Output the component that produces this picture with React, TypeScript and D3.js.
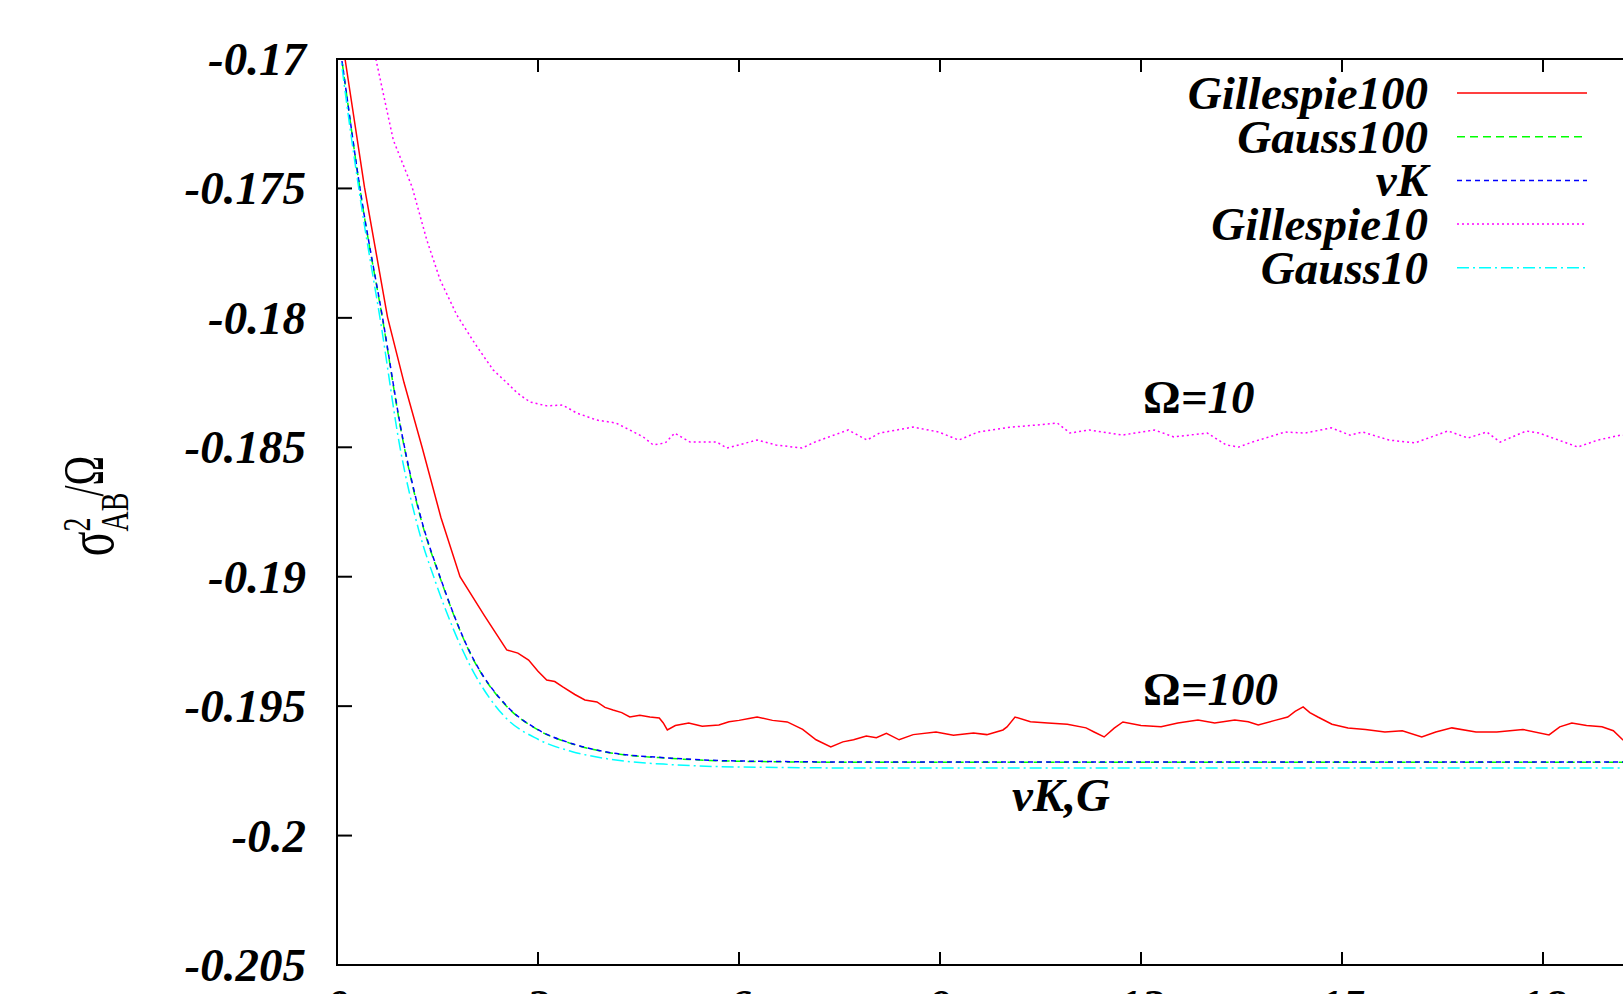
import * as d3 from "d3";

// x ticks (time) and y ticks
const xTicks = [0, 3, 6, 9, 12, 15, 18];
const yTicks = [-0.17, -0.175, -0.18, -0.185, -0.19, -0.195, -0.2, -0.205];
const yTickLabels = ["-0.17", "-0.175", "-0.18", "-0.185", "-0.19", "-0.195", "-0.2", "-0.205"];

// series: [t, sigma^2/Omega]
const gillespie100: [number, number][] = [
  [0, -0.1686], [0.12, -0.17], [0.41, -0.17495], [0.754, -0.17997], [1.0, -0.1825],
  [1.27, -0.185], [1.55, -0.1877], [1.836, -0.19], [2.2, -0.1915], [2.533, -0.19283],
  [2.7, -0.19295], [2.86, -0.19322], [3.0, -0.19365], [3.13, -0.19399], [3.25, -0.19405],
  [3.37, -0.19426], [3.55, -0.19455], [3.7, -0.19476], [3.88, -0.19484], [4.0, -0.19505],
  [4.12, -0.19515], [4.25, -0.19525], [4.37, -0.19542], [4.52, -0.19535], [4.67, -0.19542],
  [4.81, -0.19546], [4.87, -0.19565], [4.93, -0.19592], [5.05, -0.19575], [5.25, -0.19565],
  [5.45, -0.19578], [5.7, -0.19573], [5.85, -0.1956], [6.0, -0.19555], [6.15, -0.19548],
  [6.27, -0.19542], [6.5, -0.19555], [6.72, -0.19561], [6.95, -0.1959], [7.15, -0.1963],
  [7.37, -0.19658], [7.55, -0.19638], [7.71, -0.1963], [7.9, -0.19615], [8.05, -0.19622],
  [8.2, -0.19605], [8.39, -0.1963], [8.6, -0.1961], [8.94, -0.196], [9.2, -0.19612],
  [9.5, -0.19604], [9.7, -0.1961], [9.94, -0.19592], [10.0, -0.1958], [10.12, -0.19542],
  [10.35, -0.1956], [10.61, -0.19565], [10.9, -0.1957], [11.18, -0.19584], [11.3, -0.196],
  [11.45, -0.19619], [11.6, -0.19585], [11.73, -0.19561], [12.0, -0.19575], [12.3, -0.1958],
  [12.55, -0.19565], [12.85, -0.19554], [13.1, -0.19565], [13.4, -0.19554], [13.6, -0.1956],
  [13.75, -0.19573], [14.0, -0.19555], [14.19, -0.19542], [14.3, -0.1952], [14.42, -0.19503],
  [14.52, -0.19525], [14.64, -0.19542], [14.85, -0.1957], [15.09, -0.19584], [15.35, -0.1959],
  [15.64, -0.196], [15.9, -0.19595], [16.19, -0.19619], [16.4, -0.196], [16.64, -0.19584],
  [17.0, -0.196], [17.31, -0.196], [17.7, -0.1959], [18.09, -0.19611], [18.25, -0.1958],
  [18.43, -0.19565], [18.65, -0.19575], [18.88, -0.1958], [19.05, -0.19595], [19.19, -0.1963],
  [19.5, -0.1962], [20, -0.1961],
];

const gauss100: [number, number][] = [
  [0, -0.1687], [0.07, -0.17], [0.37, -0.17548], [0.68, -0.18005], [0.97, -0.18455],
  [1.25, -0.18775], [1.537, -0.19003], [2.0, -0.19302], [2.537, -0.19502], [3.0, -0.19592],
  [3.5, -0.19645], [4, -0.19677], [5, -0.19702], [6, -0.19713], [8, -0.19717], [20, -0.19717],
];

const vK: [number, number][] = [
  [0, -0.1687], [0.07, -0.17], [0.37, -0.17545], [0.68, -0.18], [0.97, -0.1845],
  [1.25, -0.1877], [1.537, -0.19], [2.0, -0.193], [2.537, -0.195], [3.0, -0.19591],
  [3.5, -0.19644], [4, -0.19676], [5, -0.19701], [6, -0.19712], [8, -0.19716], [20, -0.19716],
];

const gillespie10: [number, number][] = [
  [0.3, -0.168], [0.58, -0.17], [0.84, -0.17313], [1.12, -0.17494], [1.34, -0.17699],
  [1.54, -0.17854], [1.79, -0.1799], [2.06, -0.181], [2.33, -0.18201], [2.54, -0.18252],
  [2.69, -0.1829], [2.88, -0.18325], [3.13, -0.1834], [3.37, -0.18337], [3.58, -0.18368],
  [3.88, -0.18395], [4.16, -0.18406], [4.37, -0.18433], [4.57, -0.1846], [4.72, -0.18491],
  [4.9, -0.18483], [5.04, -0.18445], [5.27, -0.1848], [5.67, -0.1848], [5.82, -0.18503],
  [6.27, -0.18472], [6.55, -0.18491], [6.94, -0.18503], [7.13, -0.1848], [7.63, -0.18433],
  [7.91, -0.18472], [8.1, -0.18445], [8.6, -0.18422], [8.98, -0.18441], [9.28, -0.18472],
  [9.57, -0.18441], [10.06, -0.18422], [10.45, -0.18414], [10.75, -0.18406], [10.94, -0.18445],
  [11.23, -0.18433], [11.72, -0.18453], [12.2, -0.18433], [12.49, -0.1846], [12.99, -0.18445],
  [13.27, -0.18491], [13.46, -0.18499], [13.66, -0.1848], [14.15, -0.18441], [14.45, -0.18445],
  [14.84, -0.18425], [15.12, -0.18453], [15.31, -0.18441], [15.7, -0.18472], [16.09, -0.18483],
  [16.58, -0.18437], [16.88, -0.18464], [17.16, -0.18441], [17.36, -0.1848], [17.75, -0.18437],
  [17.94, -0.18445], [18.52, -0.18499], [18.82, -0.18472], [19.16, -0.18453], [19.6, -0.1846],
  [20, -0.1845],
];

const gauss10: [number, number][] = [
  [0, -0.1687], [0.06, -0.17], [0.36, -0.1756], [0.66, -0.1803], [0.94, -0.185],
  [1.22, -0.1882], [1.47, -0.1902], [2.0, -0.1935], [2.5, -0.1954], [3.0, -0.19628],
  [3.5, -0.19675], [4, -0.19702], [5, -0.19726], [6, -0.19735], [8, -0.19739], [20, -0.19739],
];

const series = [
  { name: "Gillespie100", data: gillespie100, color: "#ff0000", dash: "", smooth: false },
  { name: "Gauss100", data: gauss100, color: "#00ff00", dash: "8,5", smooth: true },
  { name: "vK", data: vK, color: "#0000ff", dash: "5,4", smooth: true },
  { name: "Gillespie10", data: gillespie10, color: "#ff00ff", dash: "2,3", smooth: false },
  { name: "Gauss10", data: gauss10, color: "#00ffff", dash: "12,4,2,4", smooth: true },
];

const W = 1623;
const H = 994;
const margin = { left: 337, top: 59, bottom: 965, right: 1677 };
const font = "'Liberation Serif', 'Times New Roman', serif";
const fs = 47;

export default function App() {
  const x = d3.scaleLinear().domain([0, 20]).range([margin.left, margin.right]);
  const y = d3.scaleLinear().domain([-0.205, -0.17]).range([margin.bottom, margin.top]);

  const linePath = (d: [number, number][], smooth: boolean) =>
    d3
      .line<[number, number]>()
      .x((p) => x(p[0]))
      .y((p) => y(p[1]))
      .curve(smooth ? d3.curveMonotoneX : d3.curveLinear)(d) || "";

  const legendY0 = 93;
  const legendStep = 43.7;

  return (
    <svg
      width={W}
      height={H}
      style={{ position: "fixed", left: 0, top: 0, background: "#fff" }}
      fontFamily={font}
    >
      <defs>
        <clipPath id="plot">
          <rect x={margin.left} y={margin.top} width={margin.right - margin.left} height={margin.bottom - margin.top} />
        </clipPath>
      </defs>
      <rect x={0} y={0} width={W} height={H} fill="#fff" />

      {/* curves */}
      <g clipPath="url(#plot)" fill="none">
        {series.map((s) => (
          <path
            key={s.name}
            d={linePath(s.data, s.smooth)}
            stroke={s.color}
            strokeWidth={1.5}
            strokeDasharray={s.dash || undefined}
          />
        ))}
      </g>

      {/* border */}
      <path
        d={`M${margin.right},${margin.top}H${margin.left}V${margin.bottom}H${margin.right}`}
        fill="none"
        stroke="#000"
        strokeWidth={2}
      />

      {/* y ticks */}
      {yTicks.map((v, i) => (
        <g key={v}>
          {i > 0 && i < yTicks.length - 1 && (
            <line x1={margin.left} x2={margin.left + 15} y1={y(v)} y2={y(v)} stroke="#000" strokeWidth={2} />
          )}
          <text
            x={306}
            y={y(v)}
            dy="0.34em"
            textAnchor="end"
            fontSize={fs}
            fontWeight="bold"
            fontStyle="italic"
          >
            {yTickLabels[i]}
          </text>
        </g>
      ))}

      {/* x ticks */}
      {xTicks.map((v) => (
        <g key={v}>
          {v > 0 && (
            <>
              <line x1={x(v)} x2={x(v)} y1={margin.top} y2={margin.top + 13} stroke="#000" strokeWidth={2} />
              <line x1={x(v)} x2={x(v)} y1={margin.bottom} y2={margin.bottom - 13} stroke="#000" strokeWidth={2} />
            </>
          )}
          <text
            x={x(v)}
            y={1022}
            textAnchor="middle"
            fontSize={fs}
            fontWeight="bold"
            fontStyle="italic"
          >
            {v}
          </text>
        </g>
      ))}

      {/* legend */}
      {series.map((s, i) => {
        const ly = legendY0 + i * legendStep;
        return (
          <g key={s.name}>
            <text
              x={1428}
              y={ly}
              dy="0.34em"
              textAnchor="end"
              fontSize={fs}
              fontWeight="bold"
              fontStyle="italic"
            >
              {s.name}
            </text>
            <line
              x1={1457}
              x2={1587}
              y1={ly}
              y2={ly}
              stroke={s.color}
              strokeWidth={1.5}
              strokeDasharray={s.dash || undefined}
            />
          </g>
        );
      })}

      {/* annotations */}
      <text x={1143} y={413} fontSize={fs} fontWeight="bold">
        Ω<tspan fontStyle="italic">=10</tspan>
      </text>
      <text x={1143} y={705} fontSize={fs} fontWeight="bold">
        Ω<tspan fontStyle="italic">=100</tspan>
      </text>
      <text x={1012} y={811} fontSize={fs} fontWeight="bold" fontStyle="italic">
        vK,G
      </text>

      {/* y axis label */}
      <text transform="translate(113,506) rotate(-90) scale(1,1.45)" textAnchor="middle" fontSize={40}>
        <tspan fontSize={46}>σ</tspan><tspan dy={-16} fontSize={28}>2</tspan><tspan dx={-14} dy={26} fontSize={28}>AB</tspan><tspan dx={-4} dy={-17}>/Ω</tspan>
      </text>
    </svg>
  );
}
